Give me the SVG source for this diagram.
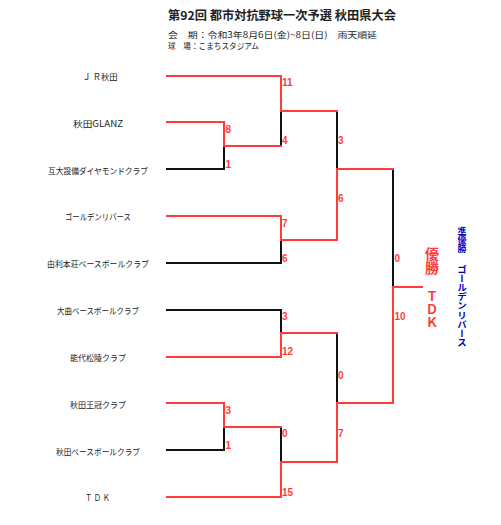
<svg xmlns="http://www.w3.org/2000/svg" width="501" height="525" viewBox="0 0 501 525">
<style>
.t{font-family:"Noto Sans CJK JP","Liberation Sans",sans-serif;fill:#222}
.team{font-size:8.5px;text-anchor:middle;dominant-baseline:central}
.sc{font-family:"Liberation Sans","DejaVu Sans",sans-serif;font-size:10px;font-weight:bold;fill:#ff3b3b}
.r{stroke:#ff3b3b;stroke-width:2;fill:none;stroke-linecap:square}
.b{stroke:#111;stroke-width:2;fill:none;stroke-linecap:square}
.win{font-family:"Noto Sans CJK JP","Liberation Sans",sans-serif;font-weight:bold;fill:#ff3b3b;writing-mode:vertical-rl}
.ru{font-family:"Noto Sans CJK JP","Liberation Sans",sans-serif;font-weight:bold;fill:#0000c0;writing-mode:vertical-rl}
</style>
<rect width="501" height="525" fill="#fff"/>
<g id="header">
<text class="t" x="168" y="20" font-size="12" font-weight="bold" textLength="228" lengthAdjust="spacingAndGlyphs">第92回 都市対抗野球一次予選 秋田県大会</text>
<text class="t" x="168" y="37.5" font-size="8.5" textLength="209" lengthAdjust="spacingAndGlyphs">会　期：令和3年8月6日(金)~8日(日)　雨天順延</text>
<text class="t" x="168" y="48.5" font-size="8.5" textLength="91" lengthAdjust="spacingAndGlyphs">球　場：こまちスタジアム</text>
</g>
<g id="teams">
<g id="team1"><text class="t team" x="100" y="76" textLength="35" lengthAdjust="spacingAndGlyphs">Ｊ Ｒ秋田</text></g>
<g id="team2"><text class="t team" x="98" y="123" textLength="50" lengthAdjust="spacingAndGlyphs">秋田GLANZ</text></g>
<g id="team3"><text class="t team" x="98" y="170" textLength="100" lengthAdjust="spacingAndGlyphs">互大設備ダイヤモンドクラブ</text></g>
<g id="team4"><text class="t team" x="98" y="216" textLength="66" lengthAdjust="spacingAndGlyphs">ゴールデンリバース</text></g>
<g id="team5"><text class="t team" x="98" y="263" textLength="102" lengthAdjust="spacingAndGlyphs">由利本荘ベースボールクラブ</text></g>
<g id="team6"><text class="t team" x="98" y="310" textLength="82" lengthAdjust="spacingAndGlyphs">大曲ベースボールクラブ</text></g>
<g id="team7"><text class="t team" x="98" y="357" textLength="56" lengthAdjust="spacingAndGlyphs">能代松陵クラブ</text></g>
<g id="team8"><text class="t team" x="98" y="404" textLength="56" lengthAdjust="spacingAndGlyphs">秋田王冠クラブ</text></g>
<g id="team9"><text class="t team" x="98" y="451" textLength="84" lengthAdjust="spacingAndGlyphs">秋田ベースボールクラブ</text></g>
<g id="team10"><text class="t team" x="97.5" y="497" textLength="25" lengthAdjust="spacingAndGlyphs">Ｔ Ｄ Ｋ</text></g>
</g>
<g id="connectors">
<path class="b" d="M167 169H224V146"/>
<path class="b" d="M281 111V146"/>
<path class="b" d="M167 263H281V240"/>
<path class="b" d="M337 111V169"/>
<path class="b" d="M167 310H281V333"/>
<path class="b" d="M167 450H224V427"/>
<path class="b" d="M281 427V462"/>
<path class="b" d="M337 333V403"/>
<path class="b" d="M393 169V287"/>
<path class="r" d="M167 76H281V111H337"/>
<path class="r" d="M167 122H224V146H281"/>
<path class="r" d="M167 216H281V240H337V169H393"/>
<path class="r" d="M167 357H281V333H337"/>
<path class="r" d="M167 403H224V427H281"/>
<path class="r" d="M167 497H281V462H337V403H393V287H422"/>
</g>
<g id="scores">
<text class="sc" x="282" y="86">11</text>
<text class="sc" x="225.5" y="133">8</text>
<text class="sc" x="225.5" y="168">1</text>
<text class="sc" x="282" y="144">4</text>
<text class="sc" x="338" y="144">3</text>
<text class="sc" x="338" y="202">6</text>
<text class="sc" x="282" y="227">7</text>
<text class="sc" x="282" y="262">6</text>
<text class="sc" x="394.5" y="262">0</text>
<text class="sc" x="282" y="320">3</text>
<text class="sc" x="394.5" y="320">10</text>
<text class="sc" x="282" y="355">12</text>
<text class="sc" x="338" y="379">0</text>
<text class="sc" x="225.5" y="414">3</text>
<text class="sc" x="225.5" y="449">1</text>
<text class="sc" x="282" y="437">0</text>
<text class="sc" x="338" y="437">7</text>
<text class="sc" x="282" y="496">15</text>
</g>
<g id="winner">
<text class="win" x="432" y="247" font-size="14" font-weight="normal">優勝</text>
<text class="win" x="432" y="290" font-size="12.5" textLength="39" lengthAdjust="spacingAndGlyphs">ＴＤＫ</text>
</g>
<g id="runnerup">
<text class="ru" x="462" y="227" font-size="9" textLength="26" lengthAdjust="spacingAndGlyphs">準優勝</text>
<text class="ru" x="462" y="265" font-size="9.5" font-weight="normal" textLength="82" lengthAdjust="spacingAndGlyphs">ゴールデンリバース</text>
</g>
</svg>
